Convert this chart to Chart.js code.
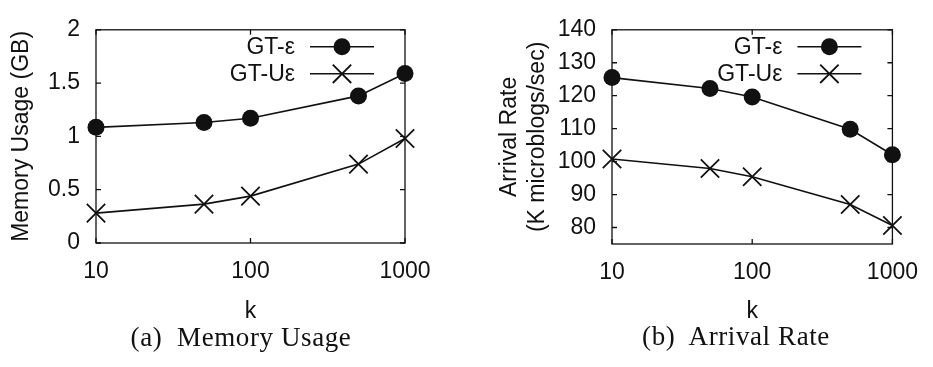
<!DOCTYPE html>
<html>
<head>
<meta charset="utf-8">
<script src="https://cdn.jsdelivr.net/npm/chart.js@4.4.1/dist/chart.umd.min.js"></script>
<style>
  body { margin: 0; background: #fff; }
  .panel { position: absolute; top: 0; }
  .cap { position: absolute; font-family: 'Liberation Serif', serif; font-size: 27px; color: #111;
         letter-spacing: 0.6px; white-space: pre; transform: translate(-50%, -50%); }
</style>
</head>
<body>
<div class="panel" style="left:0"><canvas id="mem" width="466" height="330"></canvas></div>
<div class="panel" style="left:466px"><canvas id="rate" width="467" height="330"></canvas></div>
<div class="cap" style="left:241px;top:337px">(a)  Memory Usage</div>
<div class="cap" style="left:736px;top:336px">(b)  Arrival Rate</div>
<script>
// k values on the x axis
const kValues = [10, 50, 100, 500, 1000];
const kTicks = [10, 100, 1000];
const seriesNames = ['GT-\u03b5', 'GT-U\u03b5'];

// (a) memory usage, GB
const memGTe = [1.085, 1.13, 1.17, 1.38, 1.59];
const memGTUe = [0.28, 0.365, 0.44, 0.74, 0.98];
const memTicks = [0, 0.5, 1, 1.5, 2];

// (b) arrival rate, K microblogs/sec
const rateGTe = [125.5, 122.2, 119.6, 109.8, 102.1];
const rateGTUe = [100.8, 97.9, 95.4, 87.0, 80.6];
const rateTicks = [80, 90, 100, 110, 120, 130, 140];

const INK = '#111';
const FONT = "'Liberation Sans', Arial, sans-serif";
Chart.defaults.color = INK;
Chart.defaults.font.family = FONT;

function drawMarker(ctx, style, x, y) {
  ctx.beginPath();
  if (style === 'circle') {
    ctx.arc(x, y, 8.5, 0, Math.PI * 2);
    ctx.fill();
  } else {
    const d = 9.2;
    ctx.moveTo(x - d, y - d); ctx.lineTo(x + d, y + d);
    ctx.moveTo(x - d, y + d); ctx.lineTo(x + d, y - d);
    ctx.stroke();
  }
}

// gnuplot-like frame: full box with inward ticks, legend inside top right
const frame = {
  id: 'frame',
  beforeDatasetsDraw(chart) {
    const { ctx, chartArea: a, scales: { x, y } } = chart;
    ctx.save();
    ctx.strokeStyle = INK;
    ctx.lineWidth = 1.3;
    ctx.strokeRect(a.left, a.top, a.right - a.left, a.bottom - a.top);
    ctx.beginPath();
    y.ticks.forEach(t => {
      const py = y.getPixelForValue(t.value);
      ctx.moveTo(a.left, py); ctx.lineTo(a.left + 5, py);
      ctx.moveTo(a.right, py); ctx.lineTo(a.right - 5, py);
    });
    x.ticks.forEach(t => {
      const px = x.getPixelForValue(t.value);
      ctx.moveTo(px, a.bottom); ctx.lineTo(px, a.bottom - 5);
      ctx.moveTo(px, a.top); ctx.lineTo(px, a.top + 5);
    });
    ctx.stroke();
    ctx.restore();
  },
  afterDatasetsDraw(chart) {
    const { ctx, chartArea: a } = chart;
    ctx.save();
    ctx.font = '23px ' + FONT;
    ctx.textAlign = 'right';
    ctx.textBaseline = 'middle';
    chart.data.datasets.forEach((ds, i) => {
      const ly = a.top + 17 + i * 27;
      ctx.fillStyle = INK;
      ctx.fillText(ds.label, a.right - 110, ly + 1);
      ctx.strokeStyle = INK;
      ctx.lineWidth = 1.6;
      ctx.beginPath();
      ctx.moveTo(a.right - 95, ly); ctx.lineTo(a.right - 31, ly);
      ctx.stroke();
      ctx.lineWidth = 1.8;
      drawMarker(ctx, ds.pointStyle, a.right - 63, ly);
    });
    ctx.restore();
  }
};

function makeChart(id, values, yTicks, yMin, yMax, title, yWidth, titlePad, padRight, xHeight) {
  const styles = ['circle', 'crossRot'];
  new Chart(document.getElementById(id), {
    type: 'line',
    data: {
      datasets: values.map((vals, i) => ({
        label: seriesNames[i],
        data: kValues.map((k, j) => ({ x: k, y: vals[j] })),
        borderColor: INK,
        backgroundColor: INK,
        borderWidth: 1.6,
        pointStyle: styles[i],
        pointRadius: i === 0 ? 8.5 : 13,
        pointBorderWidth: i === 0 ? 0 : 1.8,
        pointBackgroundColor: INK,
        pointBorderColor: INK,
        clip: false,
        tension: 0
      }))
    },
    options: {
      responsive: false,
      animation: false,
      layout: { padding: { top: 16, right: padRight, left: 0, bottom: 0 } },
      plugins: { legend: { display: false }, tooltip: { enabled: false } },
      scales: {
        x: {
          type: 'logarithmic',
          min: 10,
          max: 1000,
          grid: { display: false, drawTicks: false },
          border: { display: false },
          afterBuildTicks: s => { s.ticks = kTicks.map(v => ({ value: v })); },
          afterFit: s => { s.height = xHeight; },
          ticks: { autoSkip: false, maxRotation: 0, padding: 15, font: { size: 23 },
                   callback: v => String(v) },
          title: { display: true, text: 'k', font: { size: 23 }, padding: { top: 0, bottom: 5 } }
        },
        y: {
          min: yMin,
          max: yMax,
          grid: { display: false, drawTicks: false },
          border: { display: false },
          afterBuildTicks: s => { s.ticks = yTicks.map(v => ({ value: v })); },
          afterFit: s => { s.width = yWidth; },
          ticks: { padding: 16, font: { size: 23 }, callback: v => String(v) },
          title: { display: true, text: title, font: { size: 23, lineHeight: 1.25 },
                   padding: { top: titlePad, bottom: 0 } }
        }
      }
    },
    plugins: [frame]
  });
}

makeChart('mem', [memGTe, memGTUe], memTicks, 0, 2, 'Memory Usage (GB)', 96, 7, 61, 87);
makeChart('rate', [rateGTe, rateGTUe], rateTicks, 75, 140,
          ['Arrival Rate', '(K microblogs/sec)'], 146, 29, 37, 86);
</script>
</body>
</html>
